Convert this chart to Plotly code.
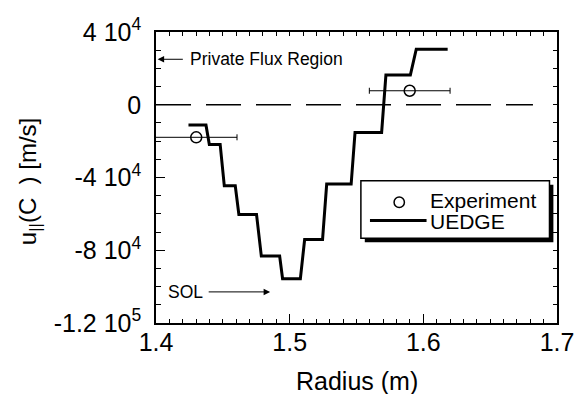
import plotly.graph_objects as go

# ---------------- data ----------------
# UEDGE staircase: each step has a start radius, end radius and velocity
step_x_start = [1.4243, 1.4399, 1.4511, 1.4620, 1.4788, 1.4947, 1.5112, 1.5277, 1.5489, 1.5720, 1.5947]
step_x_end   = [1.4374, 1.4480, 1.4593, 1.4752, 1.4925, 1.5080, 1.5246, 1.5460, 1.5688, 1.5903, 1.6182]
step_u       = [-1.12e4, -2.18e4, -4.46e4, -6.03e4, -8.32e4, -9.57e4, -7.41e4, -4.36e4, -1.52e4, 1.63e4, 3.05e4]

# Experiment points with radial error bars
exp_r   = [1.4301, 1.5898]
exp_u   = [-1.79e4, 7.7e3]
exp_err = [0.0305, 0.0302]

# zero reference line
zero_x = [1.4, 1.682]
zero_y = [0, 0]

x_range = [1.4, 1.7]
y_range = [-1.2e5, 4e4]
x_tickvals = [1.4, 1.5, 1.6, 1.7]
x_ticktext = ["1.4", "1.5", "1.6", "1.7"]
y_tickvals = [4e4, 0, -4e4, -8e4, -1.2e5]
y_ticktext = ["4 10<sup>4</sup>", "0", "-4 10<sup>4</sup>", "-8 10<sup>4</sup>", "-1.2 10<sup>5</sup>"]

# ---------------- build ----------------
uedge_x, uedge_y = [], []
for xs, xe, u in zip(step_x_start, step_x_end, step_u):
    uedge_x += [xs, xe]
    uedge_y += [u, u]

FONT = "Liberation Sans, Arial, Helvetica, sans-serif"

fig = go.Figure()
fig.add_trace(go.Scatter(x=zero_x, y=zero_y, mode="lines",
                         line=dict(color="black", width=1.5, dash="35px,15px"),
                         showlegend=False, hoverinfo="skip"))
fig.add_trace(go.Scatter(x=uedge_x, y=uedge_y, mode="lines",
                         line=dict(color="black", width=3), name="UEDGE",
                         showlegend=False))
fig.add_trace(go.Scatter(x=exp_r, y=exp_u, mode="markers", name="Experiment",
                         marker=dict(symbol="circle-open", size=11, color="black",
                                     line=dict(width=1.5, color="black")),
                         error_x=dict(type="data", array=exp_err, visible=True,
                                      color="black", thickness=1, width=3),
                         showlegend=False))
# invisible trace to anchor the mirrored (top/right) tick axes
fig.add_trace(go.Scatter(x=[x_range[0]], y=[y_range[0]], xaxis="x2", yaxis="y2",
                         mode="markers", marker=dict(opacity=0), showlegend=False,
                         hoverinfo="skip"))

axis_common = dict(showline=True, linecolor="black", linewidth=1.5, mirror=True,
                   ticks="inside", tickcolor="black", tickwidth=1, showgrid=False,
                   zeroline=False,
                   tickfont=dict(family=FONT, size=25, color="black"))

fig.update_layout(
    xaxis=dict(range=x_range, tickvals=x_tickvals, ticktext=x_ticktext,
               ticklen=9, ticklabelstandoff=-4,
               minor=dict(ticks="inside", ticklen=4, dtick=0.01, tickcolor="black", tickwidth=1),
               **axis_common),
    yaxis=dict(range=y_range, tickvals=y_tickvals, ticktext=y_ticktext,
               ticklen=9, ticklabelstandoff=8,
               minor=dict(ticks="inside", ticklen=5, dtick=1e4, tickcolor="black", tickwidth=1),
               **axis_common),
    xaxis2=dict(range=x_range, overlaying="x", side="top", anchor="y2",
                ticks="inside", ticklen=4, tickwidth=1, tickcolor="black",
                tick0=1.4, dtick=0.01, showticklabels=False, showgrid=False,
                zeroline=False, showline=False),
    yaxis2=dict(range=y_range, overlaying="y", side="right", anchor="x2",
                ticks="inside", ticklen=4, tickwidth=1, tickcolor="black",
                tick0=0, dtick=1e4, showticklabels=False, showgrid=False,
                zeroline=False, showline=False),
)

W, H = 586, 394
L, R, T, B = 156, 19, 32, 71
pw, ph = W - L - R, H - T - B

def px(xp):
    return (xp - L) / pw

def py(yp):
    return (H - B - yp) / ph

shapes = []
# legend shadow and box
sx, sy = 4 / pw, 4 / ph
shapes.append(dict(type="rect", xref="paper", yref="paper",
                   x0=px(366) + sx, x1=px(559.3) + sx, y0=py(238.3) - sy, y1=py(180.7) - sy,
                   fillcolor="black", line=dict(width=0)))
shapes.append(dict(type="rect", xref="paper", yref="paper",
                   x0=px(366), x1=px(559.3), y0=py(238.3), y1=py(180.7),
                   fillcolor="white", line=dict(color="black", width=1.5)))
# legend symbols
r = 5.3
shapes.append(dict(type="circle", xref="paper", yref="paper",
                   x0=px(405.3 - r), x1=px(405.3 + r), y0=py(202.3 + r), y1=py(202.3 - r),
                   line=dict(color="black", width=1.5), fillcolor="rgba(0,0,0,0)"))
shapes.append(dict(type="line", xref="paper", yref="paper",
                   x0=px(375.3), x1=px(433.3), y0=py(220.5), y1=py(220.5),
                   line=dict(color="black", width=3)))

ann = []
ann.append(dict(xref="paper", yref="paper", x=px(435), y=py(200.5), text="Experiment",
                showarrow=False, xanchor="left", yanchor="middle",
                font=dict(family=FONT, size=21, color="black")))
ann.append(dict(xref="paper", yref="paper", x=px(435), y=py(221.5), text="UEDGE",
                showarrow=False, xanchor="left", yanchor="middle",
                font=dict(family=FONT, size=21, color="black")))
# Private Flux Region
ann.append(dict(x=1.4012, y=2.5e4, ax=1.4212, ay=2.5e4, axref="x", ayref="y",
                text="", showarrow=True, arrowhead=2, arrowsize=1.3, arrowwidth=1,
                arrowcolor="black"))
ann.append(dict(x=1.4236, y=2.5e4, text="Private Flux Region", showarrow=False,
                xanchor="left", yanchor="middle",
                font=dict(family=FONT, size=17.5, color="black")))
# SOL
ann.append(dict(x=1.4854, y=-1.029e5, ax=1.4383, ay=-1.029e5, axref="x", ayref="y",
                text="", showarrow=True, arrowhead=2, arrowsize=1.3, arrowwidth=1,
                arrowcolor="black"))
ann.append(dict(x=1.4078, y=-1.029e5, text="SOL", showarrow=False,
                xanchor="left", yanchor="middle",
                font=dict(family=FONT, size=17.5, color="black")))
# axis titles
ann.append(dict(xref="paper", yref="paper", x=0.5, y=py(381), text="Radius (m)",
                showarrow=False, xanchor="center", yanchor="middle",
                font=dict(family=FONT, size=25, color="black")))
ann.append(dict(xref="paper", yref="paper", x=px(27), y=py(182),
                text="u<sub>||</sub>(C  ) [m/s]", textangle=-90,
                showarrow=False, xanchor="center", yanchor="middle",
                font=dict(family=FONT, size=24, color="black")))

fig.update_layout(width=W, height=H, margin=dict(l=L, r=R, t=T, b=B),
                  paper_bgcolor="white", plot_bgcolor="white",
                  shapes=shapes, annotations=ann, showlegend=False,
                  font=dict(family=FONT, color="black"))

fig.write_html("out.html")
